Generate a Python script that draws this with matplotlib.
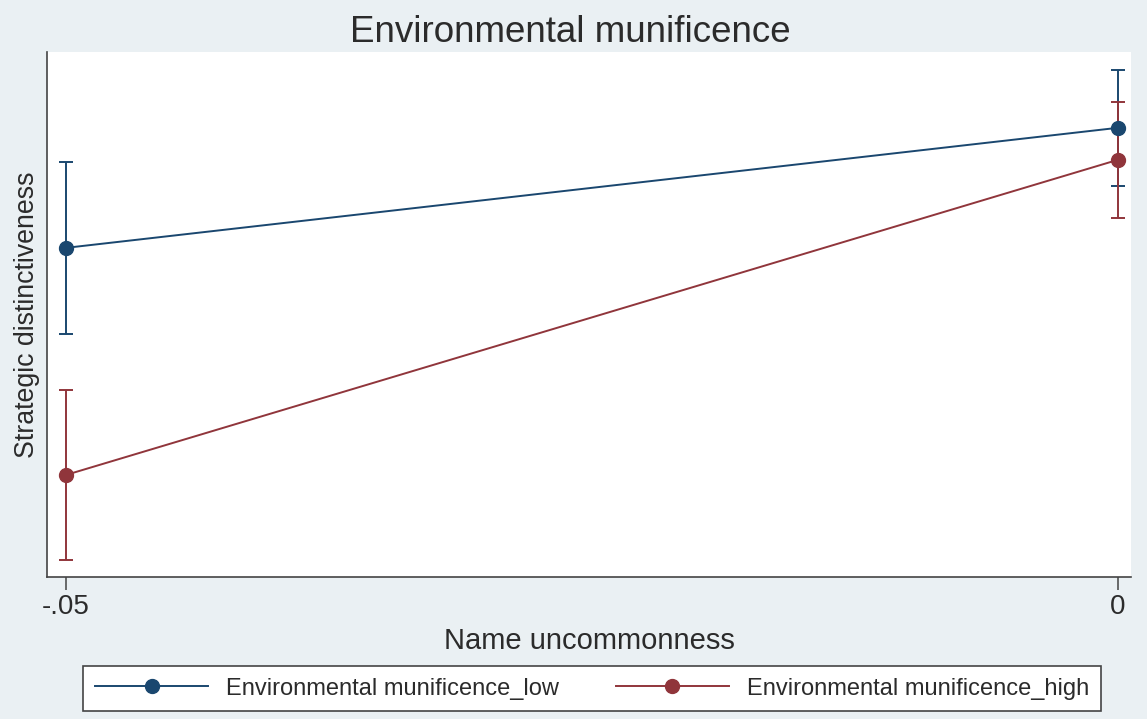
import matplotlib

matplotlib.use("Agg")
import matplotlib.pyplot as plt  # noqa: E402

plt.rcParams["font.family"] = ["Liberation Sans", "DejaVu Sans"]

# predictive margins of strategic distinctiveness by name uncommonness
name_uncommonness = [-0.05, 0.0]
tick_labels = ["-.05", "0"]

margin_low = [0.352, 0.472]
ci_low_lower = [0.266, 0.414]
ci_low_upper = [0.438, 0.530]

margin_high = [0.125, 0.440]
ci_high_lower = [0.040, 0.382]
ci_high_upper = [0.210, 0.498]

series_labels = ["Environmental munificence_low", "Environmental munificence_high"]

NAVY = "#1a476f"
MAROON = "#90353b"
GRAPH_BG = "#eaf0f3"
INK = "#2b2b2b"

figure = plt.figure(figsize=(11.47, 7.19), dpi=100, facecolor=GRAPH_BG)
axis = figure.add_axes([0.041, 0.1975, 0.945, 0.7305])
axis.set_facecolor("white")

series = [
    (margin_low, ci_low_lower, ci_low_upper, NAVY, series_labels[0]),
    (margin_high, ci_high_lower, ci_high_upper, MAROON, series_labels[1]),
]
handles = []
for values, lower, upper, color, label in series:
    errors = [
        [v - lo for v, lo in zip(values, lower)],
        [hi - v for v, hi in zip(values, upper)],
    ]
    axis.errorbar(
        name_uncommonness,
        values,
        yerr=errors,
        fmt="none",
        ecolor=color,
        elinewidth=1.4,
        capsize=5,
        capthick=1.4,
        zorder=2,
    )
    (line,) = axis.plot(
        name_uncommonness,
        values,
        color=color,
        lw=1.4,
        marker="o",
        markersize=10,
        markerfacecolor=color,
        markeredgecolor=color,
        label=label,
        zorder=3,
    )
    handles.append(line)

axis.set_xlim(-0.0509, 0.00062)
axis.set_ylim(0.023, 0.548)
axis.set_xticks(name_uncommonness)
axis.set_xticklabels(tick_labels)
axis.set_yticks([])
axis.tick_params(axis="x", direction="out", length=9, width=1.1,
                 color="#444444", labelsize=20, pad=3, labelcolor=INK)

for side in ("top", "right"):
    axis.spines[side].set_visible(False)
for side in ("left", "bottom"):
    axis.spines[side].set_color("#444444")
    axis.spines[side].set_linewidth(1.2)

# title is centred on the whole graph region, not on the plot area
figure.text(0.497, 1 - 42 / 719, "Environmental munificence",
            fontsize=26.5, color=INK, ha="center", va="baseline")
axis.set_xlabel("Name uncommonness", fontsize=21, color=INK, labelpad=5)
axis.set_ylabel("Strategic distinctiveness", fontsize=19.3, color=INK, labelpad=5)

legend = figure.legend(
    handles=handles,
    loc="center",
    bbox_to_anchor=((76 + 1108) / 2 / 1147, 1 - 688.5 / 719),
    ncol=2,
    fontsize=17,
    handlelength=4.8,
    handletextpad=0.75,
    columnspacing=2.4,
    borderpad=0.5,
    borderaxespad=0,
    frameon=True,
    fancybox=False,
    edgecolor="#444444",
    framealpha=1,
)
legend.get_frame().set_linewidth(1.2)
for text in legend.get_texts():
    text.set_color(INK)

figure.savefig("out.png", dpi=100, facecolor=GRAPH_BG)
